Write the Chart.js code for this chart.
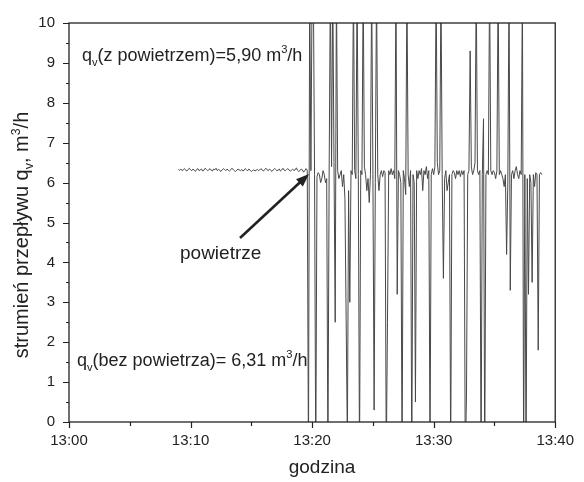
<!DOCTYPE html>
<html>
<head>
<meta charset="utf-8">
<script src="https://cdn.jsdelivr.net/npm/chart.js@4/dist/chart.umd.min.js"></script>
<style>
  html, body { margin: 0; padding: 0; background: #fff; }
</style>
</head>
<body>
<canvas id="wykres" width="584" height="482"></canvas>
<script>
// minutes after 13:00, one sample every 0.1 min
var czasStart = 9.0;
var krok = 0.1;

// bez powietrza (13:09 - 13:19.6)
var qvPrzed = [
    6.33,6.31,6.34,6.30,6.32,6.35,6.31,6.29,6.33,6.36,
    6.32,6.30,6.34,6.31,6.28,6.33,6.35,6.30,6.32,6.34,
    6.29,6.31,6.36,6.33,6.30,6.32,6.35,6.31,6.29,6.34,
    6.32,6.36,6.30,6.33,6.31,6.28,6.32,6.35,6.33,6.30,
    6.34,6.31,6.29,6.32,6.36,6.33,6.30,6.28,6.31,6.34,
    6.32,6.30,6.33,6.29,6.31,6.35,6.32,6.30,6.34,6.31,
    6.28,6.30,6.32,6.29,6.31,6.33,6.30,6.32,6.35,6.31,
    6.29,6.33,6.36,6.32,6.30,6.34,6.31,6.28,6.32,6.35,
    6.33,6.30,6.31,6.34,6.29,6.32,6.36,6.31,6.30,6.33,
    6.35,6.32,6.29,6.31,6.34,6.30,6.32,6.37,6.31,6.28,
    6.30,6.34,6.32,6.26,6.30,6.35,6.31
];

// z powietrzem (13:19.7 - 13:38.9)
var qvPo = [
    -1, 11, 6.3, 11, 11, 6.2, -1, 6.15, 6.25, 6.2,
    6.0, 6.1, 6.3, 6.2, 6.0, 6.1, -1, 6.2, 11, 6.4,
    11, 6.5, 2.5, 11, 6.3, 6.1, 6.2, 6.3, 5.9, 6.2,
    5.6, 2.6, -0.5, 5.8, 3.0, 6.3, 6.2, 11, 6.3, 6.1,
    11, 6.2, -1, 6.3, 6.2, 11, 6.4, 6.2, 5.8, 6.1,
    5.5, 6.2, 11, 6.3, 0.3, 6.0, 11, 6.2, 5.8, 6.2,
    6.3, 6.15, 6.3, 6.25, -1, 2.5, 6.3, 6.2, 6.35, 6.2,
    6.3, 6.1, 11, 3.2, 6.3, 6.2, 6.0, -1, 6.3, 6.1,
    5.7, 11, 6.2, 5.9, 6.3, -1, 6.2, 6.0, 0.5, 6.3,
    6.1, 6.3, 6.2, 6.35, 5.8, 6.3, 6.2, 6.4, 6.1, 6.3,
    -1, 6.2, 6.35, 6.2, 6.4, 11, 6.5, 6.2, 6.3, 11,
    6.2, 3.6, 6.1, 6.3, 5.8, 6.0, 6.2, -1, 6.2, 6.3,
    6.25, 6.1, 6.3, 6.2, 6.3, 6.15, 6.3, 6.2, 6.3, -1,
    0.7, 6.2, 6.3, 9.3, 6.4, 6.2, 6.3, 6.5, 11, 6.3,
    6.2, 6.3, -1, 6.2, 7.6, -1, 6.2, 6.3, 6.2, 11,
    6.3, 6.2, 6.3, 6.25, 6.1, 6.3, 11, 6.2, 6.3, 6.2,
    6.1, 5.9, 6.2, 4.2, 6.0, 11, 3.3, 6.2, 6.3, 6.1,
    6.3, 6.4, 6.2, 6.1, 6.3, 6.2, 11, -1, 6.2, -1,
    6.1, 3.2, 6.2, 6.0, 3.5, 6.2, 5.9, 6.25, 6.2, 1.8,
    6.2, 6.25, 6.2
];

var xTicks = [0, 10, 20, 30, 40];   // 13:00 ... 13:40
var yTicks = [0, 1, 2, 3, 4, 5, 6, 7, 8, 9, 10];

var FONT = '"Liberation Sans", Arial, sans-serif';

var punkty = qvPrzed.concat(qvPo).map(function (v, i) {
    return { x: +(czasStart + i * krok).toFixed(2), y: v };
});

function godzina(m) {
    return '13:' + (m < 10 ? '0' : '') + m;
}

// text with subscript / superscript parts
function tekstRich(ctx, parts, size) {
    var w = 0;
    parts.forEach(function (p) {
        ctx.font = (p[1] ? size * 0.62 : size) + 'px ' + FONT;
        w += ctx.measureText(p[0]).width;
    });
    return w;
}
function rysujRich(ctx, parts, x, y, size) {
    parts.forEach(function (p) {
        var s = p[1] ? size * 0.62 : size;
        var dy = p[1] === 'sub' ? size * 0.25 : (p[1] === 'sup' ? -size * 0.42 : 0);
        ctx.font = s + 'px ' + FONT;
        ctx.fillText(p[0], x, y + dy);
        x += ctx.measureText(p[0]).width;
    });
}

var dekoracje = {
    id: 'dekoracje',
    afterDraw: function (chart) {
        var ctx = chart.ctx;
        var a = chart.chartArea;
        var xs = chart.scales.x, ys = chart.scales.y;
        ctx.save();
        ctx.strokeStyle = '#222';
        ctx.fillStyle = '#222';
        ctx.lineWidth = 1.3;
        ctx.strokeRect(a.left, a.top, a.right - a.left, a.bottom - a.top);

        ctx.lineWidth = 1.2;
        ctx.beginPath();
        for (var v = 0; v <= 10; v += 0.5) {
            var py = Math.round(ys.getPixelForValue(v)) + 0.5;
            var len = (v % 1 === 0) ? 6 : 3;
            ctx.moveTo(a.left, py);
            ctx.lineTo(a.left - len, py);
        }
        for (var m = 0; m <= 40; m += 5) {
            var px = Math.round(xs.getPixelForValue(m)) + 0.5;
            var l2 = (m % 10 === 0) ? 6 : 4;
            ctx.moveTo(px, a.bottom);
            ctx.lineTo(px, a.bottom + l2);
        }
        ctx.stroke();

        ctx.textBaseline = 'alphabetic';
        ctx.textAlign = 'left';
        rysujRich(ctx, [['q'], ['v', 'sub'], ['(z powietrzem)=5,90 m'], ['3', 'sup'], ['/h']], 82, 61, 18);
        rysujRich(ctx, [['q'], ['v', 'sub'], ['(bez powietrza)= 6,31 m'], ['3', 'sup'], ['/h']], 77, 366, 18);

        ctx.font = '19px ' + FONT;
        ctx.fillText('powietrze', 180, 259);

        ctx.textAlign = 'center';
        ctx.fillText('godzina', 322, 473);
        ctx.textAlign = 'left';

        // arrow
        var x0 = 240, y0 = 238, x1 = 309, y1 = 174;
        var ang = Math.atan2(y1 - y0, x1 - x0);
        ctx.lineWidth = 2.6;
        ctx.beginPath();
        ctx.moveTo(x0, y0);
        ctx.lineTo(x1 - 10 * Math.cos(ang), y1 - 10 * Math.sin(ang));
        ctx.stroke();
        ctx.beginPath();
        ctx.moveTo(x1, y1);
        ctx.lineTo(x1 - 13 * Math.cos(ang) + 5 * Math.sin(ang), y1 - 13 * Math.sin(ang) - 5 * Math.cos(ang));
        ctx.lineTo(x1 - 13 * Math.cos(ang) - 5 * Math.sin(ang), y1 - 13 * Math.sin(ang) + 5 * Math.cos(ang));
        ctx.closePath();
        ctx.fill();

        // y axis title
        var tytul = [['strumień przepływu q'], ['v', 'sub'], [', m'], ['3', 'sup'], ['/h']];
        var w = tekstRich(ctx, tytul, 20);
        ctx.translate(28, 235);
        ctx.rotate(-Math.PI / 2);
        rysujRich(ctx, tytul, -w / 2, 0, 20);
        ctx.restore();
    }
};

new Chart(document.getElementById('wykres'), {
    type: 'line',
    data: {
        datasets: [{
            data: punkty,
            borderColor: '#484848',
            borderWidth: 1,
            pointRadius: 0,
            tension: 0,
            fill: false
        }]
    },
    options: {
        responsive: false,
        animation: false,
        layout: { padding: { top: 17, right: 20, left: 0, bottom: 0 } },
        plugins: {
            legend: { display: false },
            tooltip: { enabled: false }
        },
        scales: {
            x: {
                type: 'linear',
                min: 0,
                max: 40,
                grid: { display: false, drawTicks: false },
                border: { display: false },
                afterFit: function (s) { s.height = 60; },
                afterBuildTicks: function (s) {
                    s.ticks = xTicks.map(function (v) { return { value: v }; });
                },
                ticks: {
                    padding: 10,
                    maxRotation: 0,
                    color: '#222',
                    font: { family: FONT, size: 15 },
                    callback: function (v) { return godzina(v); }
                }
            },
            y: {
                min: 0,
                max: 10,
                grid: { display: false, drawTicks: false },
                border: { display: false },
                afterFit: function (s) { s.width = 69; },
                afterBuildTicks: function (s) {
                    s.ticks = yTicks.map(function (v) { return { value: v }; });
                },
                ticks: {
                    padding: 14,
                    color: '#222',
                    font: { family: FONT, size: 15 }
                }
            }
        }
    },
    plugins: [dekoracje]
});
</script>
</body>
</html>
